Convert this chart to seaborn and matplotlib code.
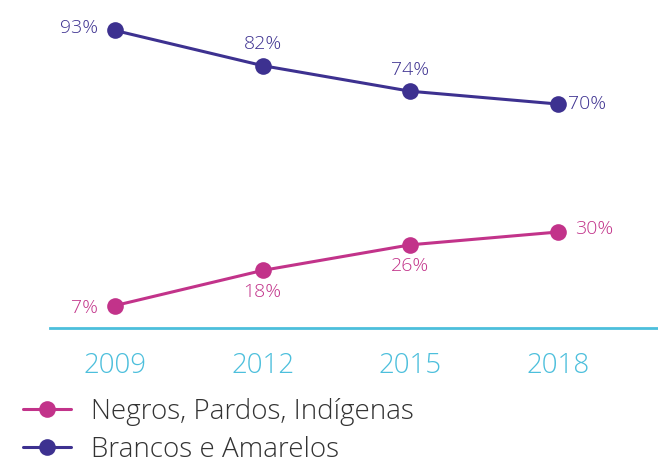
import matplotlib.pyplot as plt
import pandas as pd
import seaborn as sns

years = [2009, 2012, 2015, 2018]
negros = [7, 18, 26, 30]
brancos = [93, 82, 74, 70]
series_names = ["Negros, Pardos, Indígenas", "Brancos e Amarelos"]

pink = "#c2338a"
purple = "#3d3190"
cyan = "#4cbfdc"

df = pd.DataFrame({
    "ano": years * 2,
    "pct": negros + brancos,
    "grupo": [series_names[0]] * 4 + [series_names[1]] * 4,
})

sns.set_style("white")
plt.rcParams["font.family"] = ["Open Sans", "DejaVu Sans"]

fig = plt.figure(figsize=(6.58, 4.63), dpi=100)
ax = fig.add_axes([0.076, 0.2916, 0.924, 0.691])

sns.lineplot(data=df, x="ano", y="pct", hue="grupo", hue_order=series_names,
             palette=[pink, purple], marker="o", markersize=12,
             markeredgewidth=0, linewidth=2.2, ax=ax)

ax.set_xlim(2007.68, 2020.03)
ax.set_ylim(0, 100)
ax.set_xticks(years)
ax.set_xticklabels([str(y) for y in years], color=cyan, fontsize=20,
                   fontweight=300)
ax.set_yticks([])
ax.set_xlabel("")
ax.set_ylabel("")
ax.tick_params(axis="x", length=0, pad=17)
for side in ["top", "right", "left"]:
    ax.spines[side].set_visible(False)
ax.spines["bottom"].set_color(cyan)
ax.spines["bottom"].set_linewidth(2)

# value labels
offsets_neg = [(-12, -2, "right", "center"), (0, -9, "center", "top"),
               (0, -9, "center", "top"), (12, 2, "left", "center")]
offsets_bra = [(-12, 2, "right", "center"), (0, 9, "center", "bottom"),
               (0, 9, "center", "bottom"), (7, 0, "left", "center")]
for vals, offs, col in [(negros, offsets_neg, pink), (brancos, offsets_bra, purple)]:
    for x, v, (dx, dy, ha, va) in zip(years, vals, offs):
        ax.annotate(f"{v}%", (x, v), xytext=(dx, dy), textcoords="offset points",
                    ha=ha, va=va, color=col, fontsize=14, fontweight=300)

handles, labels = ax.get_legend_handles_labels()
leg = ax.legend(handles, labels, loc="upper left", bbox_to_anchor=(-0.085, -0.14),
                frameon=False, handlelength=1.7, handletextpad=0.75,
                labelspacing=0.35, labelcolor="#333333",
                prop={"size": 20, "weight": 300})

fig.savefig("out.png", dpi=100)
